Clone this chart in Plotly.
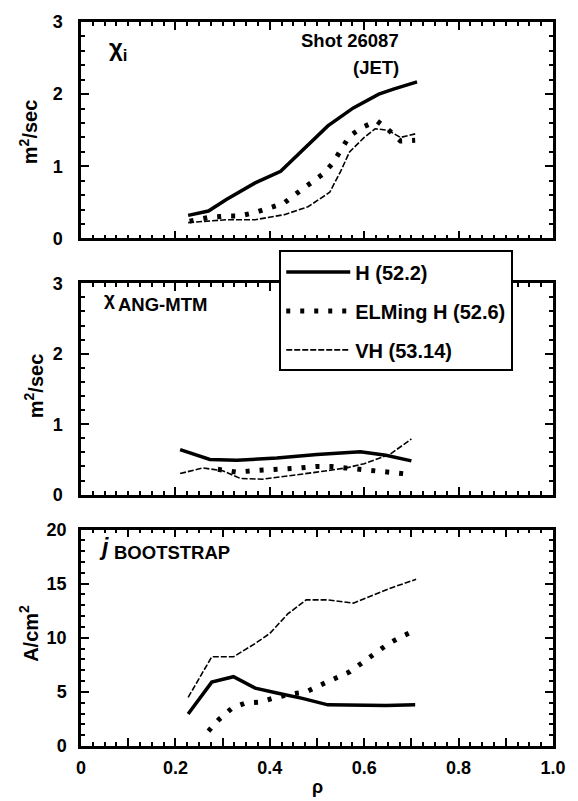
import plotly.graph_objects as go

# Panel 1: chi_i (m^2/sec)
p1_H_x = [0.227, 0.27, 0.308, 0.369, 0.423, 0.469, 0.523, 0.577, 0.631, 0.662, 0.712]
p1_H_y = [0.32, 0.38, 0.54, 0.77, 0.93, 1.22, 1.56, 1.81, 2.00, 2.07, 2.17]
p1_E_x = [0.23, 0.27, 0.305, 0.335, 0.369, 0.40, 0.43, 0.458, 0.485, 0.512, 0.533, 0.552, 0.569, 0.596, 0.627, 0.652, 0.677, 0.708]
p1_E_y = [0.24, 0.29, 0.31, 0.31, 0.36, 0.42, 0.49, 0.63, 0.77, 0.89, 1.04, 1.24, 1.42, 1.54, 1.63, 1.50, 1.35, 1.36]
p1_V_x = [0.227, 0.26, 0.308, 0.369, 0.431, 0.481, 0.527, 0.55, 0.569, 0.60, 0.623, 0.65, 0.677, 0.708]
p1_V_y = [0.22, 0.24, 0.26, 0.26, 0.33, 0.44, 0.64, 0.93, 1.20, 1.40, 1.52, 1.50, 1.40, 1.45]

# Panel 2: chi_ANG-MTM (m^2/sec)
p2_H_x = [0.21, 0.273, 0.33, 0.415, 0.50, 0.592, 0.646, 0.70]
p2_H_y = [0.64, 0.50, 0.49, 0.52, 0.57, 0.61, 0.56, 0.48]
p2_E_x = [0.29, 0.33, 0.365, 0.40, 0.43, 0.463, 0.498, 0.53, 0.56, 0.596, 0.63, 0.665, 0.696]
p2_E_y = [0.36, 0.32, 0.34, 0.35, 0.36, 0.38, 0.40, 0.40, 0.38, 0.36, 0.34, 0.31, 0.29]
p2_V_x = [0.21, 0.258, 0.30, 0.338, 0.385, 0.446, 0.50, 0.562, 0.60, 0.654, 0.70]
p2_V_y = [0.30, 0.38, 0.34, 0.23, 0.22, 0.27, 0.32, 0.38, 0.44, 0.57, 0.79]

# Panel 3: j_BOOTSTRAP (A/cm^2)
p3_H_x = [0.227, 0.277, 0.323, 0.369, 0.415, 0.469, 0.523, 0.577, 0.646, 0.708]
p3_H_y = [2.96, 5.9, 6.4, 5.35, 4.9, 4.4, 3.8, 3.75, 3.75, 3.8]
p3_E_x = [0.27, 0.292, 0.32, 0.348, 0.38, 0.413, 0.446, 0.477, 0.508, 0.538, 0.57, 0.596, 0.623, 0.652, 0.679, 0.708]
p3_E_y = [1.37, 2.44, 3.5, 3.97, 4.06, 4.5, 4.8, 5.0, 5.65, 6.2, 6.87, 7.7, 8.55, 9.47, 10.1, 10.7]
p3_V_x = [0.227, 0.277, 0.323, 0.369, 0.40, 0.438, 0.477, 0.523, 0.577, 0.623, 0.66, 0.71]
p3_V_y = [4.49, 8.24, 8.24, 9.47, 10.4, 12.2, 13.5, 13.5, 13.2, 14.0, 14.65, 15.4]

x_tickvals = [0, 0.1, 0.2, 0.3, 0.4, 0.5, 0.6, 0.7, 0.8, 0.9, 1.0]
x_ticktext = ["0", "", "0.2", "", "0.4", "", "0.6", "", "0.8", "", "1.0"]
names = ["H (52.2)", "ELMing H (52.6)", "VH (53.14)"]

FONT = "Liberation Sans, Arial"

H_line = dict(color="black", width=3.5)
E_line = dict(color="black", width=5, dash="4px,10px")
V_line = dict(color="black", width=1.6, dash="6px,2px")

fig = go.Figure()
panels = [
    ("x", "y", p1_H_x, p1_H_y, p1_E_x, p1_E_y, p1_V_x, p1_V_y),
    ("x2", "y2", p2_H_x, p2_H_y, p2_E_x, p2_E_y, p2_V_x, p2_V_y),
    ("x3", "y3", p3_H_x, p3_H_y, p3_E_x, p3_E_y, p3_V_x, p3_V_y),
]
for i, (xa, ya, hx, hy, ex, ey, vx, vy) in enumerate(panels):
    show = (i == 1)
    fig.add_trace(go.Scatter(x=hx, y=hy, mode="lines", line=H_line, name=names[0],
                             showlegend=show, legendgroup="a", xaxis=xa, yaxis=ya))
    fig.add_trace(go.Scatter(x=ex, y=ey, mode="lines", line=E_line, name=names[1],
                             showlegend=show, legendgroup="b", xaxis=xa, yaxis=ya))
    fig.add_trace(go.Scatter(x=vx, y=vy, mode="lines", line=V_line, name=names[2],
                             showlegend=show, legendgroup="c", xaxis=xa, yaxis=ya))

tickfont = dict(family=FONT, size=18, color="black", weight="bold")
base = dict(showline=True, linecolor="black", linewidth=2.5, tickcolor="black", tickwidth=2,
            showgrid=False, zeroline=False, tickfont=tickfont, ticks="inside", mirror="ticks")

xax = dict(range=[0, 1.0], tickvals=x_tickvals, ticktext=x_ticktext, ticklen=8, ticklabelstandoff=4,
           minor=dict(dtick=0.025, ticks="inside", ticklen=4, tickcolor="black", tickwidth=1.5),
           **base)

ymin = dict(ticks="inside", ticklen=4, tickcolor="black", tickwidth=1.5)

fig.update_layout(
    width=578, height=801,
    margin=dict(l=81, r=14, t=17, b=55),
    paper_bgcolor="white", plot_bgcolor="rgba(0,0,0,0)",
    xaxis=dict(domain=[0, 1], anchor="y", showticklabels=False, **xax),
    xaxis2=dict(domain=[0, 1], anchor="y2", showticklabels=False, **xax),
    xaxis3=dict(domain=[0, 1], anchor="y3", showticklabels=True, **xax),
    yaxis=dict(domain=[0.701, 1.0], anchor="x", range=[0, 3], tickvals=[0, 1, 2, 3], ticklen=8,
               ticklabelstandoff=12, minor=dict(dtick=0.2, **ymin), **base),
    yaxis2=dict(domain=[0.3471, 0.6392], anchor="x2", range=[0, 3], tickvals=[0, 1, 2, 3], ticklen=8,
                ticklabelstandoff=12, minor=dict(dtick=0.2, **ymin), **base),
    yaxis3=dict(domain=[0.0, 0.299], anchor="x3", range=[0, 20], tickvals=[0, 5, 10, 15, 20], ticklen=8,
                ticklabelstandoff=8, minor=dict(dtick=1, **ymin), **base),
    legend=dict(x=0.42, y=0.6845, xanchor="left", yanchor="top", xref="paper", yref="paper",
                bgcolor="white", bordercolor="black", borderwidth=2,
                font=dict(family=FONT, size=20, color="black", weight="bold"),
                tracegroupgap=10, itemwidth=64),
    showlegend=True,
)

ann_font = dict(family=FONT, size=18.5, color="black", weight="bold")
title_font = dict(family=FONT, size=20, color="black", weight="bold")
anns = [
    dict(text="χ<sub>i</sub>", x=0.056, y=2.62, xref="x", yref="y", xanchor="left", yanchor="middle",
         font=dict(family=FONT, size=24, color="black", weight="bold")),
    dict(text="Shot 26087", x=0.678, y=2.75, xref="x", yref="y", xanchor="right", yanchor="middle", font=ann_font),
    dict(text="(JET)", x=0.678, y=2.37, xref="x", yref="y", xanchor="right", yanchor="middle", font=ann_font),
    dict(text="χ", x=0.0436, y=2.78, xref="x2", yref="y2", xanchor="left", yanchor="middle",
         font=dict(family=FONT, size=19, color="black", weight="bold")),
    dict(text="ANG-MTM", x=0.0747, y=2.70, xref="x2", yref="y2", xanchor="left", yanchor="middle",
         font=dict(family=FONT, size=18.5, color="black", weight="bold")),
    dict(text="<i>j</i>", x=0.033, y=18.4, xref="x3", yref="y3", xanchor="left", yanchor="middle",
         font=dict(family=FONT, size=23, color="black", weight="bold")),
    dict(text="BOOTSTRAP", x=0.0664, y=17.85, xref="x3", yref="y3", xanchor="left", yanchor="middle",
         font=dict(family=FONT, size=18.5, color="black", weight="bold")),
    dict(text="m<sup>2</sup>/sec", x=-0.112, y=0.848, xref="paper", yref="paper", textangle=-90,
         xanchor="center", yanchor="middle", font=title_font),
    dict(text="m<sup>2</sup>/sec", x=-0.10, y=0.498, xref="paper", yref="paper", textangle=-90,
         xanchor="center", yanchor="middle", font=title_font),
    dict(text="A/cm<sup>2</sup>", x=-0.11, y=0.155, xref="paper", yref="paper", textangle=-90,
         xanchor="center", yanchor="middle", font=title_font),
    dict(text="ρ", x=0.5, y=-0.057, xref="paper", yref="paper", xanchor="center", yanchor="middle",
         font=dict(family=FONT, size=18, color="black", weight="bold")),
]
for a in anns:
    a["showarrow"] = False
    fig.add_annotation(**a)

fig.write_html("out.html", config={"displayModeBar": False},
               post_script="document.body.style.margin='0';document.body.style.padding='0';")
